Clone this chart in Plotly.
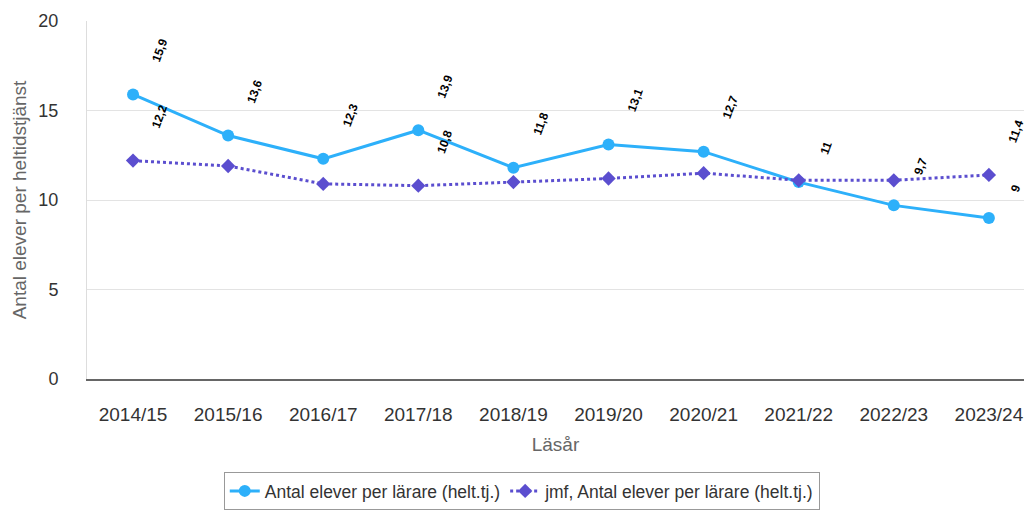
import plotly.graph_objects as go

categories = ["2014/15", "2015/16", "2016/17", "2017/18", "2018/19",
              "2019/20", "2020/21", "2021/22", "2022/23", "2023/24"]
series1_name = "Antal elever per lärare (helt.tj.)"
series1 = [15.9, 13.6, 12.3, 13.9, 11.8, 13.1, 12.7, 11.0, 9.7, 9.0]
series2_name = "jmf, Antal elever per lärare (helt.tj.)"
series2 = [12.2, 11.9, 10.9, 10.8, 11.0, 11.2, 11.5, 11.1, 11.1, 11.4]
series2_labelled = [0, 3, 9]

c1 = "#2DB0FA"
c2 = "#5B4ECF"
font_family = "Liberation Sans, Arial, sans-serif"

x_idx = list(range(len(categories)))

fig = go.Figure()
fig.add_trace(go.Scatter(
    x=x_idx, y=series1, name=series1_name, mode="lines+markers",
    line=dict(color=c1, width=3), marker=dict(symbol="circle", size=12, color=c1),
))
fig.add_trace(go.Scatter(
    x=x_idx, y=series2, name=series2_name, mode="lines+markers",
    line=dict(color=c2, width=3, dash="dot"), marker=dict(symbol="diamond", size=11, color=c2),
))


def fmt(v):
    s = ("%.1f" % v).rstrip("0").rstrip(".")
    return s.replace(".", ",")


def add_label(i, v):
    t = fmt(v)
    fig.add_annotation(
        x=i, y=v, text="<b>" + t + "</b>", showarrow=False, textangle=-70,
        xshift=27, yshift=25 + 4.8 * len(t),
        font=dict(size=12, color="#000000", family=font_family),
    )


for i, v in enumerate(series1):
    add_label(i, v)
for i in series2_labelled:
    add_label(i, series2[i])

fig.update_layout(
    width=1024, height=510,
    margin=dict(l=87, r=0, t=21, b=131),
    plot_bgcolor="white", paper_bgcolor="white",
    font=dict(family=font_family, color="#333333"),
    showlegend=True,
    legend=dict(
        orientation="h", x=0.464, xanchor="center", y=-0.26, yanchor="top",
        bordercolor="#999999", borderwidth=1, bgcolor="white",
        font=dict(size=17.5, color="#333333"),
    ),
    xaxis=dict(
        tickmode="array", tickvals=x_idx, ticktext=categories,
        range=[-0.484, 9.369], showgrid=False, zeroline=False,
        showline=True, linecolor="#666666", linewidth=2,
        ticks="", ticklabelstandoff=17,
        tickfont=dict(size=19, color="#333333"),
        title=dict(text="Läsår", font=dict(size=19, color="#666666"), standoff=14),
    ),
    yaxis=dict(
        range=[0, 20], tickvals=[0, 5, 10, 15, 20],
        showgrid=True, gridcolor="#e3e3e3", gridwidth=1, zeroline=False,
        showline=True, linecolor="#dddddd", linewidth=1,
        ticks="", ticklabelstandoff=24,
        tickfont=dict(size=18, color="#333333"),
        title=dict(text="Antal elever per heltidstjänst", font=dict(size=19, color="#666666"), standoff=6),
    ),
)

post = ("document.documentElement.style.margin='0';"
        "document.documentElement.style.overflow='hidden';"
        "document.body.style.margin='0';"
        "document.body.style.overflow='hidden';")
fig.write_html("out.html", post_script=post, config={"displayModeBar": False})
